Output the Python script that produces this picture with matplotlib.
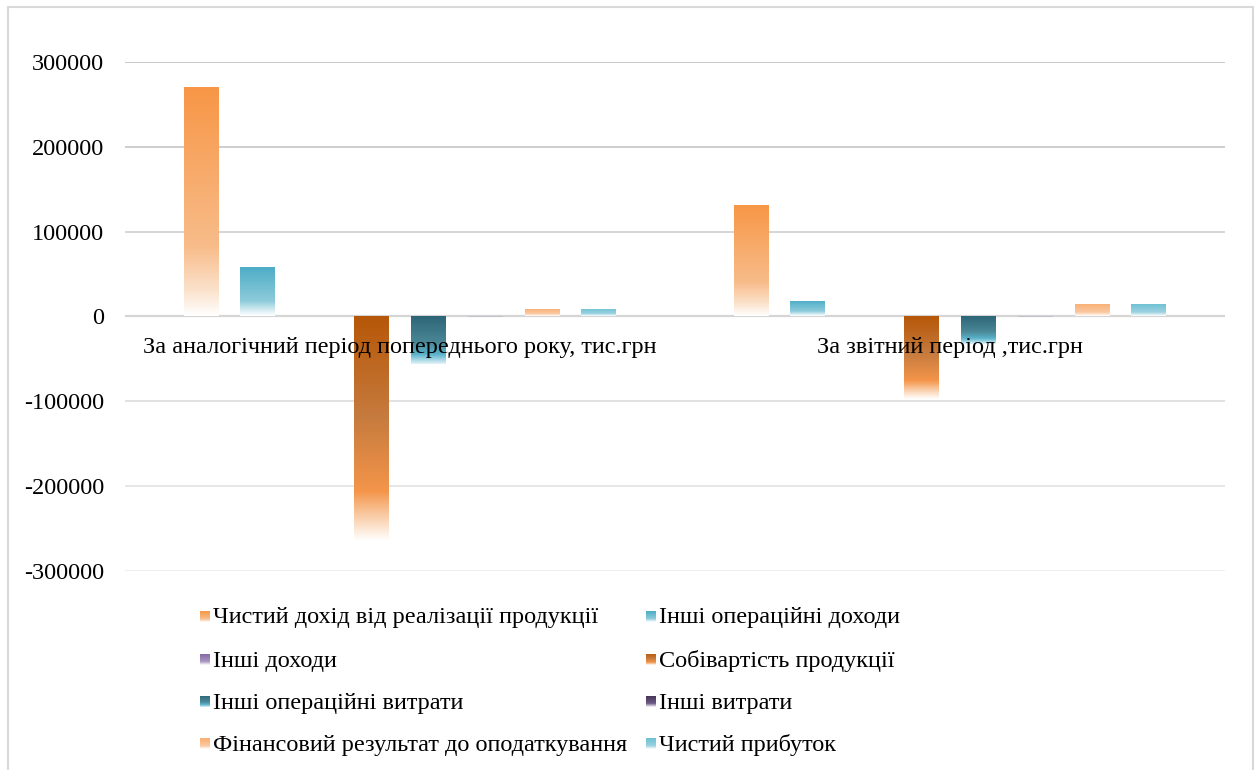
import numpy as np
import matplotlib
matplotlib.use("Agg")
import matplotlib.pyplot as plt
from matplotlib.colors import LinearSegmentedColormap
from matplotlib.patches import Rectangle

# data
categories = ["За аналогічний період попереднього року, тис.грн",
              "За звітний період ,тис.грн"]
series = ["Чистий дохід від реалізації продукції",
          "Інші операційні доходи",
          "Інші доходи",
          "Собівартість продукції",
          "Інші операційні витрати",
          "Інші витрати",
          "Фінансовий результат до оподаткування",
          "Чистий прибуток"]
values = [[271000, 132000],
          [58700, 18500],
          [300, 200],
          [-265000, -97000],
          [-56000, -33000],
          [-900, -900],
          [9000, 15000],
          [9000, 15000]]
yticks = [-300000, -200000, -100000, 0, 100000, 200000, 300000]

# gradient stops for each series (top of bar -> bottom of bar)
grads = [
    [(0, "#F79646"), (0.7, "#F8BC8A"), (0.88, "#FBE0C8"), (1, "#FFFFFF")],
    [(0, "#4BACC6"), (0.7, "#8ECBDA"), (0.88, "#D6EDF3"), (1, "#FFFFFF")],
    [(0, "#8064A2"), (0.7, "#A894C0"), (1, "#FFFFFF")],
    [(0, "#B65708"), (0.45, "#C67B3E"), (0.78, "#F4954A"), (0.86, "#F8BE8E"), (1, "#FFFFFF")],
    [(0, "#2D6577"), (0.55, "#4A8796"), (0.8, "#5AB3CC"), (1, "#E4F3F8")],
    [(0, "#8F8A99"), (0.7, "#C4C0CA"), (1, "#FFFFFF")],
    [(0, "#F9AE72"), (0.7, "#FBC8A0"), (1, "#FFFFFF")],
    [(0, "#6BC0D4"), (0.7, "#9BD2E0"), (1, "#FFFFFF")],
]
legend_grads = list(grads)
legend_grads[5] = [(0, "#3F3151"), (0.7, "#6E5A87"), (1, "#FFFFFF")]
cmaps = [LinearSegmentedColormap.from_list("g%d" % i, g) for i, g in enumerate(grads)]
leg_cmaps = [LinearSegmentedColormap.from_list("l%d" % i, g) for i, g in enumerate(legend_grads)]

plt.rcParams["font.family"] = "serif"
plt.rcParams["font.serif"] = ["Liberation Serif", "DejaVu Serif"]

fig = plt.figure(figsize=(12.56, 7.7), dpi=100)
ax = fig.add_axes([125 / 1256, 1 - 571 / 770, 1100 / 1256, 509 / 770])

grad = np.linspace(0, 1, 256).reshape(-1, 1)
n = len(series)
slot = 0.1033
width = 0.0636
x = np.arange(len(categories))
for i, name in enumerate(series):
    pos = x + (i - (n - 1) / 2) * slot
    bars = ax.bar(pos, values[i], width, color="none", edgecolor="none", zorder=3)
    for b, v in zip(bars, values[i]):
        x0 = b.get_x()
        im = ax.imshow(grad, extent=[x0, x0 + width, min(0, v), max(0, v)],
                       aspect="auto", cmap=cmaps[i], vmin=0, vmax=1,
                       origin="upper", interpolation="bilinear", zorder=3)
        im.set_clip_path(b)

ax.set_xlim(-0.5, 1.5)
ax.set_ylim(-300000, 300000)
ax.set_yticks(yticks)
ax.set_yticklabels([str(t) for t in yticks])
ax.tick_params(axis="y", length=0, pad=15, labelsize=17.5)
ax.set_xticks([])
for s in ax.spines.values():
    s.set_visible(False)

# gridlines get lighter towards the bottom
for t in yticks:
    f = (300000 - t) / 600000
    g = 0.75 + 0.17 * f
    lw = 1.6 if t == 0 else 1.2
    ax.axhline(t, color=(g, g, g), lw=lw, zorder=1)

# category labels just under the zero line
for xi, c in zip(x, categories):
    ax.annotate(c, xy=(xi, 0), xytext=(0, -22), textcoords="offset points",
                ha="center", va="center", fontsize=17.5, zorder=5)

# legend, two columns with gradient swatches
rows_y = [616, 659, 701, 743]
cols_x = [200, 646]
for i, name in enumerate(series):
    r, c = i // 2, i % 2
    yc = rows_y[r]
    lax = fig.add_axes([cols_x[c] / 1256, 1 - (yc + 6) / 770, 10 / 1256, 11 / 770])
    lax.imshow(grad, aspect="auto", cmap=leg_cmaps[i], vmin=0, vmax=1,
               interpolation="bilinear")
    lax.axis("off")
    fig.text((cols_x[c] + 13) / 1256, 1 - (yc + 2) / 770, name, fontsize=17.5,
             ha="left", va="center")

# outer chart frame
fig.patches.append(Rectangle((8 / 1256, -0.05), 1245 / 1256, 1.05 - 7 / 770,
                             transform=fig.transFigure, fill=False,
                             edgecolor="#D9D9D9", lw=1.5))

fig.savefig("out.png", dpi=100)
